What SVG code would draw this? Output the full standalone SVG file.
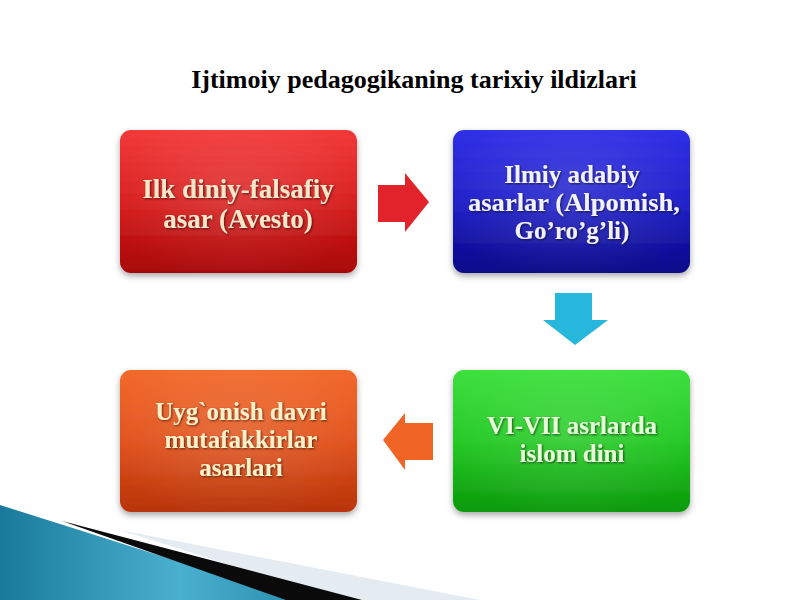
<svg xmlns="http://www.w3.org/2000/svg" width="800" height="600" viewBox="0 0 800 600">
<defs>
<style>
.lbl{font-family:"Liberation Serif","Times New Roman",serif;font-weight:bold;font-size:25px;text-anchor:middle;filter:url(#ts)}
.big{font-size:27px}
.title{font-family:"Liberation Serif","Times New Roman",serif;font-weight:bold;font-size:26px;text-anchor:middle;fill:#000}
.box{filter:url(#sh)}
</style>
<filter id="sh" x="-10%" y="-10%" width="120%" height="130%"><feDropShadow dx="0" dy="3" stdDeviation="3" flood-color="#000" flood-opacity="0.35"/></filter>
<filter id="ts" x="-5%" y="-20%" width="110%" height="140%"><feDropShadow dx="1" dy="1" stdDeviation="0.8" flood-color="#000" flood-opacity="0.6"/></filter>
<linearGradient id="gRed" x1="0" y1="0" x2="0" y2="1"><stop offset="0" stop-color="#f23a3a"/><stop offset="0.5" stop-color="#d81c1c"/><stop offset="1" stop-color="#a80606"/></linearGradient>
<linearGradient id="gBlue" x1="0" y1="0" x2="0" y2="1"><stop offset="0" stop-color="#3030e6"/><stop offset="0.5" stop-color="#1c1cc8"/><stop offset="1" stop-color="#0a0a88"/></linearGradient>
<linearGradient id="gOr" x1="0" y1="0" x2="0" y2="1"><stop offset="0" stop-color="#f26a2c"/><stop offset="0.5" stop-color="#e0501a"/><stop offset="1" stop-color="#b83408"/></linearGradient>
<linearGradient id="gGr" x1="0" y1="0" x2="0" y2="1"><stop offset="0" stop-color="#3ee03e"/><stop offset="0.5" stop-color="#20c820"/><stop offset="1" stop-color="#0c9a0c"/></linearGradient>
<radialGradient id="gloss" cx="0.5" cy="0.45" r="0.6"><stop offset="0" stop-color="#fff" stop-opacity="0.15"/><stop offset="1" stop-color="#fff" stop-opacity="0"/></radialGradient>
<linearGradient id="gTeal" x1="0" y1="0" x2="1" y2="0"><stop offset="0" stop-color="#1a7a9c"/><stop offset="0.6" stop-color="#4ab0cf"/><stop offset="1" stop-color="#2a8fb0"/></linearGradient>
</defs>
<rect width="800" height="600" fill="#ffffff"/>
<g id="decor">
<polygon points="120,530 480,600 340,600" fill="#e4ecf1"/>
<polygon points="0,505 300,600 0,600" fill="url(#gTeal)"/>
<polygon points="62,521 362,600 286,600" fill="#0a0a0a"/>
</g>
<text class="title" x="414" y="88">Ijtimoiy pedagogikaning tarixiy ildizlari</text>
<g id="node1">
<rect class="box" x="120" y="130" width="237" height="143" rx="11" fill="url(#gRed)"/>
<rect x="120" y="130" width="237" height="143" rx="11" fill="url(#gloss)"/>
<text class="lbl big" fill="#f8e6c8"><tspan x="238" y="198">Ilk diniy-falsafiy</tspan><tspan x="238" y="228">asar (Avesto)</tspan></text>
</g>
<g id="node2">
<rect class="box" x="453" y="130" width="237" height="143" rx="11" fill="url(#gBlue)"/>
<rect x="453" y="130" width="237" height="143" rx="11" fill="url(#gloss)"/>
<text class="lbl" fill="#f2f2ff"><tspan x="572" y="183">Ilmiy adabiy</tspan><tspan x="574" y="211" textLength="212" lengthAdjust="spacingAndGlyphs">asarlar (Alpomish,</tspan><tspan x="572" y="239">Go’ro’g’li)</tspan></text>
</g>
<g id="node3">
<rect class="box" x="453" y="370" width="237" height="142" rx="11" fill="url(#gGr)"/>
<rect x="453" y="370" width="237" height="142" rx="11" fill="url(#gloss)"/>
<text class="lbl" fill="#e6ffd8"><tspan x="572" y="434">VI-VII asrlarda</tspan><tspan x="572" y="462">islom dini</tspan></text>
</g>
<g id="node4">
<rect class="box" x="120" y="370" width="237" height="142" rx="11" fill="url(#gOr)"/>
<rect x="120" y="370" width="237" height="142" rx="11" fill="url(#gloss)"/>
<text class="lbl" fill="#fff0c8"><tspan x="241" y="420">Uyg`onish davri</tspan><tspan x="241" y="448">mutafakkirlar</tspan><tspan x="241" y="476">asarlari</tspan></text>
</g>
<g id="connectors">
<polygon points="378,185 405,185 405,173 429,202 405,232 405,222 378,222" fill="#e3232c"/>
<polygon points="555,293 592,293 592,320 608,320 575,345 543,320 555,320" fill="#27b6dc"/>
<polygon points="433,423 405,423 405,413 383,440 405,470 405,460 433,460" fill="#f06426"/>
</g>
</svg>
